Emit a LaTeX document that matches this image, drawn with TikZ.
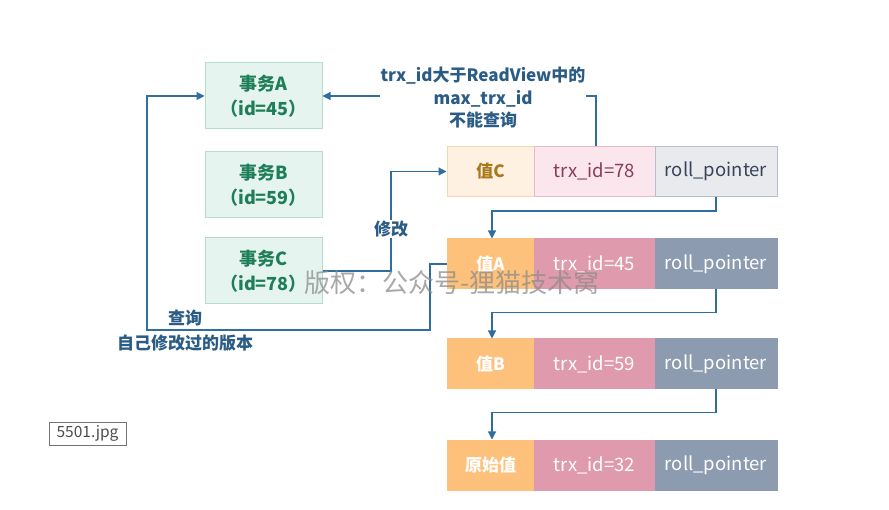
\documentclass[tikz,border=0pt]{standalone}
\usepackage{fontspec}
\setmainfont{Noto Sans CJK SC}
\usetikzlibrary{arrows.meta,calc}
\definecolor{lnblue}{HTML}{2F6E9E}
\definecolor{lbltxt}{HTML}{2A5C86}
\definecolor{grnfill}{HTML}{E5F4EE}
\definecolor{grnline}{HTML}{B3DDCC}
\definecolor{grntxt}{HTML}{1F7E5A}
\definecolor{cfill}{HTML}{FFF1E2}
\definecolor{cline}{HTML}{F6D6B0}
\definecolor{ctxt}{HTML}{A8781A}
\definecolor{pfill}{HTML}{FAE6EC}
\definecolor{pline}{HTML}{EDB9C7}
\definecolor{ptxt}{HTML}{8A3D58}
\definecolor{gfill}{HTML}{E8EAEE}
\definecolor{gline}{HTML}{B7BFCC}
\definecolor{gtxt}{HTML}{374459}
\definecolor{ofill}{HTML}{FEC17C}
\definecolor{rfill}{HTML}{E09AAD}
\definecolor{bfill}{HTML}{8D9BB0}
\tikzset{
  trx/.style={draw=grnline,fill=grnfill,text=grntxt,line width=1pt,minimum width=117pt,minimum height=66pt,inner sep=0pt,align=center,font=\fontsize{18}{25}\selectfont\bfseries},
  cell/.style={line width=1pt,minimum height=50pt,inner sep=0pt,font=\fontsize{18.5}{20}\selectfont},
  vcell/.style={cell,minimum width=87pt,font=\fontsize{17}{20}\selectfont\bfseries},
  tcell/.style={cell,minimum width=121pt},
  rcell/.style={cell,minimum width=122pt},
  solid1/.style={fill=ofill,draw=ofill,text=white},
  solid2/.style={fill=rfill,draw=rfill,text=white},
  solid3/.style={fill=bfill,draw=bfill,text=white},
  conn/.style={draw=lnblue,line width=1.1pt,-{Triangle[length=8pt,width=8pt]}},
  lbl/.style={text=lbltxt,font=\fontsize{17}{22.5}\selectfont\bfseries,align=center,inner sep=1pt}
}
\begin{document}
\begin{tikzpicture}[x=1pt,y=-1pt]
\useasboundingbox[fill=white] (0,0) rectangle (889,510);
% transactions
\node[trx] (tA) at (263.5,96) {事务A\\（id=45）};
\node[trx] (tB) at (263.5,185) {事务B\\（id=59）};
\node[trx] (tC) at (263.5,271) {事务C\\（id=78）};
% row C
\node[vcell,fill=cfill,draw=cline,text=ctxt] (vC) at (490.5,171.5) {值C};
\node[tcell,fill=pfill,draw=pline,text=ptxt] (xC) at (594.5,171.5) {trx\_id=78};
\node[rcell,fill=gfill,draw=gline,text=gtxt] (rC) at (716,171.5) {roll\_pointer};
% row A
\node[vcell,solid1] (vA) at (490.5,264) {值A};
\node[tcell,solid2] (xA) at (594.5,264) {trx\_id=45};
\node[rcell,solid3] (rA) at (716,264) {roll\_pointer};
% row B
\node[vcell,solid1] (vB) at (490.5,364) {值B};
\node[tcell,solid2] (xB) at (594.5,364) {trx\_id=59};
\node[rcell,solid3] (rB) at (716,364) {roll\_pointer};
% row O
\node[vcell,solid1] (vO) at (490.5,465) {原始值};
\node[tcell,solid2] (xO) at (594.5,465) {trx\_id=32};
\node[rcell,solid3] (rO) at (716,465) {roll\_pointer};
% roll pointer chain
\draw[conn] (rC.south) -- ++(0,14) -| ([xshift=1.5pt]vA.north);
\draw[conn] (rA.south) -- ++(0,23) -| ([xshift=1.5pt]vB.north);
\draw[conn] (rB.south) -- ++(0,23) -| ([xshift=1.5pt]vO.north);
% trx_id=78 cannot be seen by A
\coordinate (k1) at ([xshift=1.5pt]xC.north);
\draw[conn] (k1) |- (tA.east);
\node[lbl,fill=white] (l1) at (483,98) {trx\_id大于ReadView中的\\max\_trx\_id\\不能查询};
% C modifies
\coordinate (m1) at (391,271);
\draw[conn] (tC.east) -- (m1) |- (vC.west);
\node[lbl,fill=white] (l2) at (391,229) {修改};
% A query own version
\coordinate (q1) at (430,264);
\coordinate (q2) at (430,330);
\coordinate (q3) at (147,330);
\coordinate (q4) at (147,96);
\draw[conn] (vA.west) -- (q1) -- (q2) -- (q3) -- (q4) -- (tA.west);
\node[lbl,font=\fontsize{17}{25}\selectfont\bfseries] (l3) at (185,330.5) {查询\\自己修改过的版本};
% watermark
\node[text=black!45,opacity=0.75,font=\fontsize{26}{28}\selectfont] (wm) at (452,283) {版权：公众号-狸猫技术窝};
% file label
\node[draw=black!55,line width=0.8pt,text=black!70,font=\fontsize{15.5}{17}\selectfont,minimum width=77pt,minimum height=23pt,inner sep=1pt] (fn) at (87.5,433.5) {5501.jpg};
\end{tikzpicture}
\end{document}
